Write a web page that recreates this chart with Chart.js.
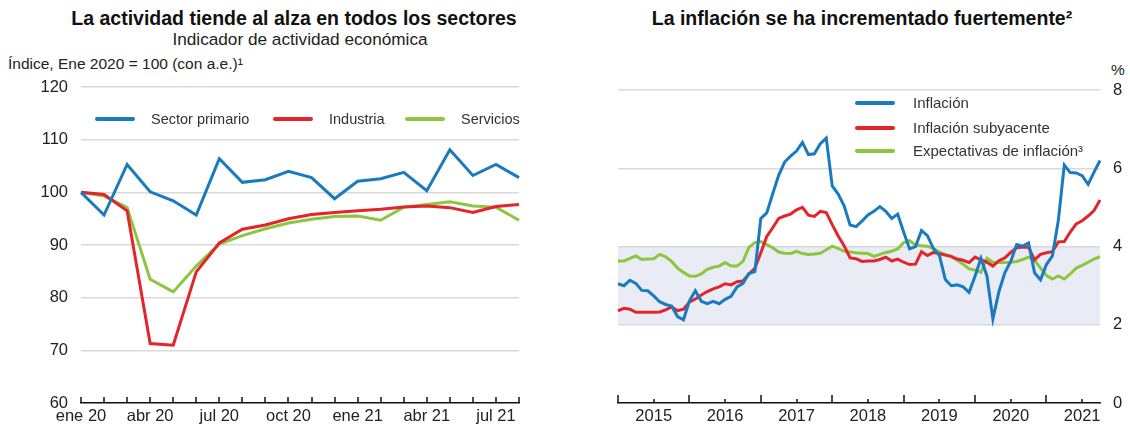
<!DOCTYPE html>
<html lang="es">
<head>
<meta charset="UTF-8">
<title>Actividad e inflación</title>
<script src="https://cdn.jsdelivr.net/npm/chart.js"></script>
<style>
  body {
    margin: 0;
    width: 1130px;
    height: 426px;
    position: relative;
    overflow: hidden;
    background: #fff;
    font-family: "Liberation Sans", Arial, sans-serif;
    color: #222;
  }
  .abs { position: absolute; white-space: nowrap; line-height: 20px; }
  .title { font-weight: bold; font-size: 19.5px; color: #111; transform: translateX(-50%); }
  .sub { font-size: 17.2px; transform: translateX(-50%); }
  .unit { font-size: 15.5px; }
  .leg { position: absolute; white-space: nowrap; display: flex; align-items: center; line-height: 18px; color: #333; }
  .leg i { display: inline-block; width: 40px; height: 4px; margin-right: 16px; border-radius: 2px; }
  canvas { position: absolute; top: 0; }
</style>
</head>
<body>
  <!-- titles -->
  <div class="abs title" style="left:294px; top:8px">La actividad tiende al alza en todos los sectores</div>
  <div class="abs sub" style="left:300px; top:29px">Indicador de actividad económica</div>
  <div class="abs unit" style="left:8px; top:54px">Índice, Ene 2020 = 100 (con a.e.)¹</div>
  <div class="abs title" style="left:862px; top:8px">La inflación se ha incrementado fuertemente²</div>
  <div class="abs unit" style="left:1111px; top:60px">%</div>

  <canvas id="actividad" width="560" height="426" style="left:0"></canvas>
  <canvas id="inflacion" width="560" height="426" style="left:570px"></canvas>

  <!-- legends -->
  <div class="leg" style="left:95px; top:110px; font-size:14.5px"><i style="background:#1a7abf"></i>Sector primario</div>
  <div class="leg" style="left:273px; top:110px; font-size:14.5px"><i style="background:#e3242b"></i>Industria</div>
  <div class="leg" style="left:405px; top:110px; font-size:14.5px"><i style="background:#8cc63f"></i>Servicios</div>

  <div class="leg" style="left:855px; top:94px; font-size:15px"><i style="background:#1a7abf; margin-right:18px"></i>Inflación</div>
  <div class="leg" style="left:855px; top:119px; font-size:15px"><i style="background:#e3242b; margin-right:18px"></i>Inflación subyacente</div>
  <div class="leg" style="left:855px; top:142px; font-size:15px"><i style="background:#8cc63f; margin-right:18px"></i>Expectativas de inflación³</div>

<script>
  // ---- left chart data (monthly, ene 2020 - ago 2021) ----
  const actMonths = ['ene 20', 'feb 20', 'mar 20', 'abr 20', 'may 20', 'jun 20', 'jul 20', 'ago 20', 'sep 20', 'oct 20',
    'nov 20', 'dic 20', 'ene 21', 'feb 21', 'mar 21', 'abr 21', 'may 21', 'jun 21', 'jul 21', 'ago 21'];
  const actShown = ['ene 20', 'abr 20', 'jul 20', 'oct 20', 'ene 21', 'abr 21', 'jul 21'];
  const sectorPrimario = [100, 95.7, 105.3, 100.1, 98.4, 95.7, 106.4, 101.9, 102.4, 104.0,
    102.8, 98.8, 102.1, 102.6, 103.8, 100.3, 108.1, 103.2, 105.3, 102.8];
  const industria = [100, 99.6, 96.5, 71.3, 71.0, 84.9, 90.4, 93.0, 93.8, 95.0,
    95.8, 96.2, 96.5, 96.8, 97.2, 97.4, 97.1, 96.2, 97.3, 97.7];
  const servicios = [100, 99.3, 97.1, 83.5, 81.1, 86.0, 90.2, 91.8, 93.1, 94.2,
    94.9, 95.4, 95.5, 94.7, 97.2, 97.7, 98.2, 97.4, 97.2, 94.7];

  // ---- right chart data (monthly, ene 2015 - oct 2021) ----
  const inflYears = ['2015', '2016', '2017', '2018', '2019', '2020', '2021'];
  const inflacion = [
    3.05, 3.00, 3.14, 3.06, 2.88, 2.87, 2.74, 2.59, 2.52, 2.48, 2.21, 2.13,
    2.61, 2.87, 2.60, 2.54, 2.60, 2.54, 2.65, 2.73, 2.97, 3.06, 3.31, 3.36,
    4.72, 4.86, 5.35, 5.82, 6.16, 6.31, 6.44, 6.66, 6.35, 6.37, 6.63, 6.77,
    5.55, 5.34, 5.04, 4.55, 4.51, 4.65, 4.81, 4.90, 5.02, 4.90, 4.72, 4.83,
    4.37, 3.94, 4.00, 4.41, 4.28, 3.95, 3.78, 3.16, 3.00, 3.02, 2.97, 2.83,
    3.24, 3.70, 3.25, 2.15, 2.84, 3.33, 3.62, 4.05, 4.01, 4.09, 3.33, 3.15,
    3.54, 3.76, 4.67, 6.08, 5.89, 5.88, 5.81, 5.59, 5.90, 6.20];
  const subyacente = [
    2.36, 2.42, 2.40, 2.32, 2.32, 2.32, 2.32, 2.33, 2.38, 2.46, 2.36, 2.40,
    2.58, 2.66, 2.76, 2.85, 2.92, 2.97, 3.05, 3.02, 3.10, 3.12, 3.30, 3.44,
    3.84, 4.26, 4.48, 4.72, 4.78, 4.83, 4.94, 5.00, 4.80, 4.77, 4.90, 4.87,
    4.56, 4.27, 4.02, 3.71, 3.69, 3.62, 3.63, 3.63, 3.67, 3.73, 3.63, 3.68,
    3.60, 3.54, 3.55, 3.87, 3.77, 3.85, 3.82, 3.78, 3.75, 3.68, 3.65, 3.59,
    3.73, 3.66, 3.60, 3.50, 3.64, 3.71, 3.85, 3.97, 3.99, 3.98, 3.66, 3.80,
    3.84, 3.87, 4.12, 4.13, 4.37, 4.58, 4.66, 4.78, 4.92, 5.19];
  const expectativas = [
    3.63, 3.63, 3.70, 3.76, 3.67, 3.68, 3.69, 3.80, 3.74, 3.62, 3.45, 3.34,
    3.25, 3.24, 3.30, 3.42, 3.47, 3.50, 3.59, 3.50, 3.50, 3.62, 3.98, 4.10,
    4.13, 4.05, 3.97, 3.86, 3.83, 3.82, 3.88, 3.82, 3.80, 3.81, 3.83, 3.92,
    4.01, 3.95, 3.88, 3.86, 3.84, 3.83, 3.82, 3.75, 3.80, 3.85, 3.88, 3.94,
    4.10, 4.15, 4.04, 4.02, 4.01, 3.95, 3.86, 3.80, 3.74, 3.65, 3.55, 3.43,
    3.40, 3.34, 3.70, 3.60, 3.59, 3.59, 3.60, 3.62, 3.67, 3.73, 3.65, 3.45,
    3.26, 3.17, 3.25, 3.17, 3.30, 3.45, 3.52, 3.60, 3.68, 3.74];
  const targetBand = [2, 4];

  // month labels "2015-01" ... for the category axis
  const inflMonths = [];
  inflYears.forEach(y => {
    for (let m = 1; m <= 12; m++) inflMonths.push(y + '-' + String(m).padStart(2, '0'));
  });
  inflMonths.length = inflacion.length;

  const BLUE = '#1a7abf', RED = '#e3242b', GREEN = '#8cc63f';
  const GRID = '#d9d9d9';
  const tickFont = { family: '"Liberation Sans", Arial, sans-serif', size: 16.5 };

  // tick marks pointing up from the bottom axis
  const upTicks = {
    id: 'upTicks',
    afterDatasetsDraw(chart, args, opts) {
      const x = chart.scales.x, ctx = chart.ctx, b = chart.chartArea.bottom;
      ctx.save();
      ctx.strokeStyle = '#111';
      ctx.lineWidth = 1.5;
      x.ticks.forEach((t, i) => {
        const len = opts.len(i);
        if (!len) return;
        const px = Math.round(x.getPixelForTick(i));
        ctx.beginPath();
        ctx.moveTo(px, b);
        ctx.lineTo(px, b - len);
        ctx.stroke();
      });
      ctx.restore();
    }
  };

  // shaded target range
  const band = {
    id: 'band',
    beforeDraw(chart, args, opts) {
      if (!opts.range) return;
      const { ctx, chartArea: a, scales: { y } } = chart;
      const top = y.getPixelForValue(opts.range[1]);
      const bot = y.getPixelForValue(opts.range[0]);
      ctx.save();
      ctx.fillStyle = opts.color;
      ctx.fillRect(a.left, top, a.right - a.left, bot - top);
      ctx.restore();
    }
  };

  const line = (label, data, color) => ({
    label, data,
    borderColor: color,
    borderWidth: 3,
    pointRadius: 0,
    tension: 0,
    fill: false
  });

  const xAxis = (callback) => ({
    grid: { display: false, drawTicks: false },
    border: { display: true, color: '#111', width: 1.5 },
    afterFit: s => { s.height = 21; },
    ticks: {
      autoSkip: false, maxRotation: 0, padding: 3,
      color: '#222', font: tickFont, callback
    }
  });

  // ---- left chart ----
  new Chart(document.getElementById('actividad'), {
    type: 'line',
    data: {
      labels: actMonths,
      datasets: [
        line('Sector primario', sectorPrimario, BLUE),
        line('Industria', industria, RED),
        line('Servicios', servicios, GREEN)
      ]
    },
    options: {
      responsive: false,
      animation: false,
      layout: { padding: { top: 87, right: 41, bottom: 0, left: 0 } },
      plugins: {
        legend: { display: false },
        tooltip: { enabled: false },
        upTicks: { len: () => 6 }
      },
      scales: {
        x: xAxis(function (v) {
          const l = this.getLabelForValue(v);
          return actShown.includes(l) ? l : '';
        }),
        y: {
          min: 60, max: 120,
          afterFit: s => { s.width = 81; },
          border: { display: false },
          grid: {
            drawTicks: false, lineWidth: 1.5,
            color: c => c.tick && c.tick.value === 60 ? 'rgba(0,0,0,0)' : GRID
          },
          ticks: { stepSize: 10, padding: 13, color: '#222', font: tickFont }
        }
      }
    },
    plugins: [upTicks]
  });

  // ---- right chart ----
  new Chart(document.getElementById('inflacion'), {
    type: 'line',
    data: {
      labels: inflMonths,
      datasets: [
        line('Inflación', inflacion, BLUE),
        line('Inflación subyacente', subyacente, RED),
        line('Expectativas de inflación', expectativas, GREEN)
      ]
    },
    options: {
      responsive: false,
      animation: false,
      layout: { padding: { top: 90, right: 0, bottom: 0, left: 48 } },
      plugins: {
        legend: { display: false },
        tooltip: { enabled: false },
        band: { range: targetBand, color: '#e9ecf4' },
        upTicks: {
          len: i => {
            const m = inflMonths[i].slice(5);
            return m === '01' ? 8 : (m === '07' ? 4 : 0);
          }
        }
      },
      scales: {
        x: xAxis(function (v) {
          const l = this.getLabelForValue(v);
          return l.endsWith('-07') ? l.slice(0, 4) : '';
        }),
        y: {
          position: 'right',
          min: 0, max: 8,
          afterFit: s => { s.width = 30; },
          border: { display: false },
          grid: {
            drawTicks: false, lineWidth: 1.5,
            color: c => c.tick && c.tick.value === 0 ? 'rgba(0,0,0,0)' : GRID
          },
          ticks: { stepSize: 2, padding: 13, color: '#222', font: tickFont }
        }
      }
    },
    plugins: [upTicks, band]
  });
</script>
</body>
</html>
